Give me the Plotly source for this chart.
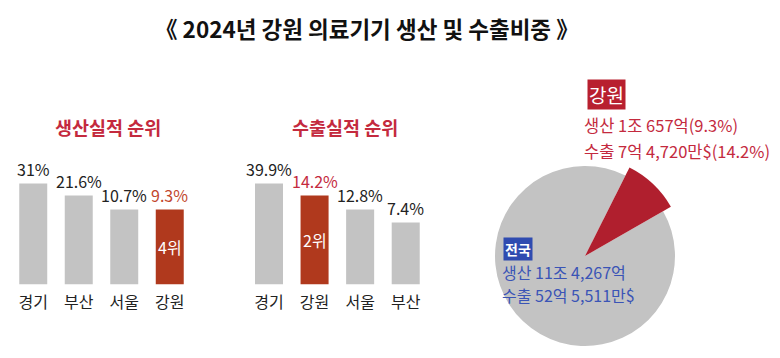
import plotly.graph_objects as go

# ---------------- data ----------------
title_text = "《 2024년 강원 의료기기 생산 및 수출비중 》"

prod_title = "생산실적 순위"
prod_regions = ["경기", "부산", "서울", "강원"]
prod_pct = [31, 21.6, 10.7, 9.3]
prod_bar_len = [10.1, 8.9, 7.5, 7.5]      # visual bar length as drawn (not to scale)
prod_rank_label = "4위"

exp_title = "수출실적 순위"
exp_regions = ["경기", "강원", "서울", "부산"]
exp_pct = [39.9, 14.2, 12.8, 7.4]
exp_bar_len = [10.1, 8.9, 7.5, 6.2]
exp_rank_label = "2위"

highlight = "강원"

gangwon_share_pct = 9.3
gangwon_lines = ["생산 1조 657억(9.3%)", "수출 7억 4,720만$(14.2%)"]
nation_label = "전국"
nation_lines = ["생산 11조 4,267억", "수출 52억 5,511만$"]

# ---------------- style ----------------
FONT = "Noto Sans CJK KR"
GRAY = "#c3c3c3"
RUST = "#b0391d"
RUST_TXT = "#c2472d"
CRIMSON = "#c42a3e"
PIE_RED = "#b01f2e"
BLUE = "#3a54b6"
BLUE_BOX = "#2f4bb0"
DARK = "#222222"

W, H = 780, 358


def px_x(v):
    return v / W


def px_y(v):  # v measured from top
    return 1 - v / H


fig = go.Figure()


def add_bar_chart(regions, pct, lens, rank_label, xaxis, yaxis, hi_text_color):
    colors = [RUST if r == highlight else GRAY for r in regions]
    fig.add_trace(go.Bar(
        x=regions, y=lens, marker=dict(color=colors, line=dict(width=0)),
        xaxis=xaxis, yaxis=yaxis, showlegend=False, hoverinfo="skip",
    ))
    for r, p, l in zip(regions, pct, lens):
        is_hi = r == highlight
        fig.add_annotation(
            x=r, y=l, xref=xaxis, yref=yaxis, text=f"{p:g}%", showarrow=False,
            xanchor="center", yanchor="bottom", yshift=0,
            font=dict(family=FONT, size=16, color=hi_text_color if is_hi else DARK),
        )
        if is_hi:
            fig.add_annotation(
                x=r, y=l / 2, xref=xaxis, yref=yaxis, text=rank_label, showarrow=False,
                xanchor="center", yanchor="middle",
                font=dict(family=FONT, size=16, color="white"),
            )


add_bar_chart(prod_regions, prod_pct, prod_bar_len, prod_rank_label, "x", "y", RUST_TXT)
add_bar_chart(exp_regions, exp_pct, exp_bar_len, exp_rank_label, "x2", "y2", CRIMSON)

y_dom = [73.5 / H, (73.5 + 134.5) / H]
axis_common = dict(showgrid=False, zeroline=False, showline=False, ticks="",
                   ticklabelstandoff=6,
                   tickfont=dict(family=FONT, size=16, color=DARK), fixedrange=True)
fig.update_layout(
    xaxis=dict(domain=[px_x(10.5), px_x(192.5)], anchor="y", **axis_common),
    xaxis2=dict(domain=[px_x(244), px_x(428.5)], anchor="y2", **axis_common),
    yaxis=dict(domain=y_dom, range=[0, 13.45], visible=False, fixedrange=True, anchor="x"),
    yaxis2=dict(domain=y_dom, range=[0, 13.45], visible=False, fixedrange=True, anchor="x2"),
    bargap=0.385,
)

# ---------------- pie (polar bars) ----------------
start_deg = 26.7
red_width = gangwon_share_pct * 3.6
red_center = start_deg + red_width / 2
fig.add_trace(go.Barpolar(
    r=[1.0], theta=[red_center + 180], width=[360 - red_width],
    marker=dict(color=GRAY, line=dict(width=0)), subplot="polar",
    showlegend=False, hoverinfo="skip",
))
fig.add_trace(go.Barpolar(
    r=[1.1], theta=[red_center], width=[red_width],
    marker=dict(color=PIE_RED, line=dict(width=0)), subplot="polar",
    showlegend=False, hoverinfo="skip",
))
cx, cy, R = 585, 256, 90 * 1.12
fig.update_layout(polar=dict(
    domain=dict(x=[px_x(cx - R), px_x(cx + R)], y=[px_y(cy + R), px_y(cy - R)]),
    bgcolor="rgba(0,0,0,0)",
    radialaxis=dict(range=[0, 1.12], visible=False),
    angularaxis=dict(rotation=90, direction="clockwise", visible=False),
    hole=0,
))


def label(x, y, text, size, color, xanchor="center", **kw):
    fig.add_annotation(x=px_x(x), y=px_y(y), xref="paper", yref="paper", text=text,
                       xanchor=xanchor, yanchor="middle", showarrow=False,
                       font=dict(family=FONT, size=size, color=color), **kw)


# ---------------- texts ----------------
label(367, 28, f"<b>{title_text}</b>", 22.5, "#111111")
label(108, 127, f"<b>{prod_title}</b>", 18.5, CRIMSON)
label(345, 127, f"<b>{exp_title}</b>", 18.5, CRIMSON)

label(587, 94, highlight, 19, "white", xanchor="left", bgcolor="#b8202f", borderpad=1)
for i, t in enumerate(gangwon_lines):
    label(582, 125 + 26 * i, t, 16.5, CRIMSON, xanchor="left")

label(503, 249, f"<b>{nation_label}</b>", 14, "white", xanchor="left", bgcolor=BLUE_BOX, borderpad=1)
for i, t in enumerate(nation_lines):
    label(500, 272 + 23 * i, t, 16, BLUE, xanchor="left")

fig.update_layout(
    width=W, height=H, margin=dict(l=0, r=0, t=0, b=0),
    paper_bgcolor="white", plot_bgcolor="rgba(0,0,0,0)",
    font=dict(family=FONT),
)

fig.write_html("out.html", config={"displayModeBar": False},
               post_script="document.body.style.margin='0';")
